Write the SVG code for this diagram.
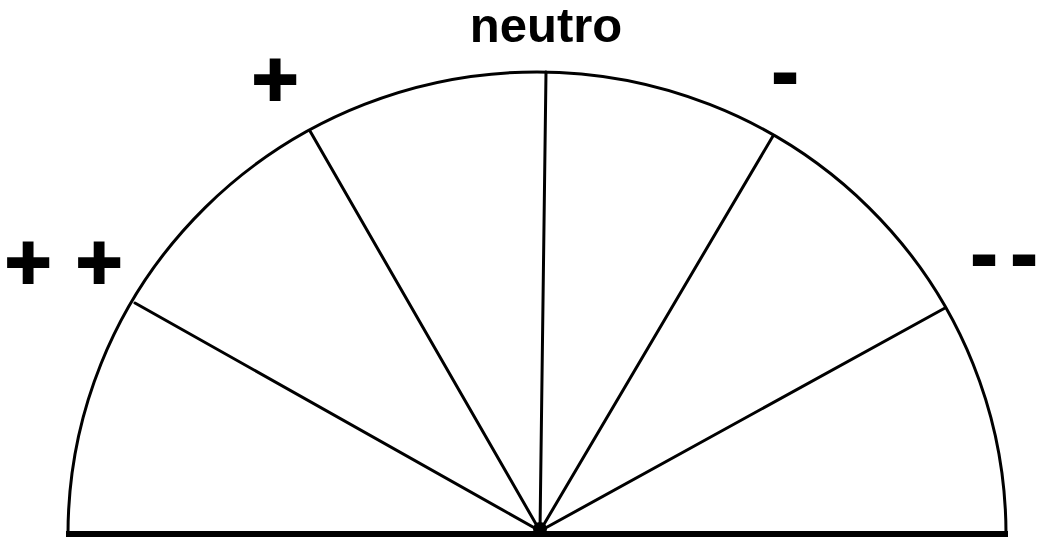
<svg xmlns="http://www.w3.org/2000/svg" width="1039" height="539" viewBox="0 0 1039 539">
<style>
.ln{stroke:#000;stroke-width:3;fill:none;stroke-linecap:round}
.lb{font-family:"Liberation Sans",Arial,sans-serif;font-weight:bold;fill:#000;text-anchor:middle}
.sg{font-size:80px;stroke:#000;stroke-width:2}
</style>
<rect width="1039" height="539" fill="#fff"/>
<g id="dial">
<path class="ln" d="M68,534 A469,462 0 0 1 1006,534"/>
<line x1="66" y1="534" x2="1008" y2="534" stroke="#000" stroke-width="6"/>
</g>
<g id="spokes">
<line class="ln" x1="540" y1="531" x2="135" y2="303"/>
<line class="ln" x1="540" y1="531" x2="310" y2="131"/>
<line class="ln" x1="540" y1="531" x2="546" y2="72"/>
<line class="ln" x1="540" y1="531" x2="773" y2="136"/>
<line class="ln" x1="540" y1="531" x2="945" y2="308"/>
<circle cx="540" cy="529" r="7" fill="#000"/>
</g>
<g id="label-neutro"><text class="lb" x="546" y="42" font-size="49">neutro</text></g>
<g id="label-plus"><text class="lb sg" x="275" y="106">+</text></g>
<g id="label-plusplus"><text class="lb sg" x="28" y="289">+</text><text class="lb sg" x="99" y="289">+</text></g>
<g id="label-minus"><text class="lb sg" x="785" y="99">-</text></g>
<g id="label-minusminus"><text class="lb sg" x="984" y="281">-</text><text class="lb sg" x="1024" y="281">-</text></g>
</svg>
